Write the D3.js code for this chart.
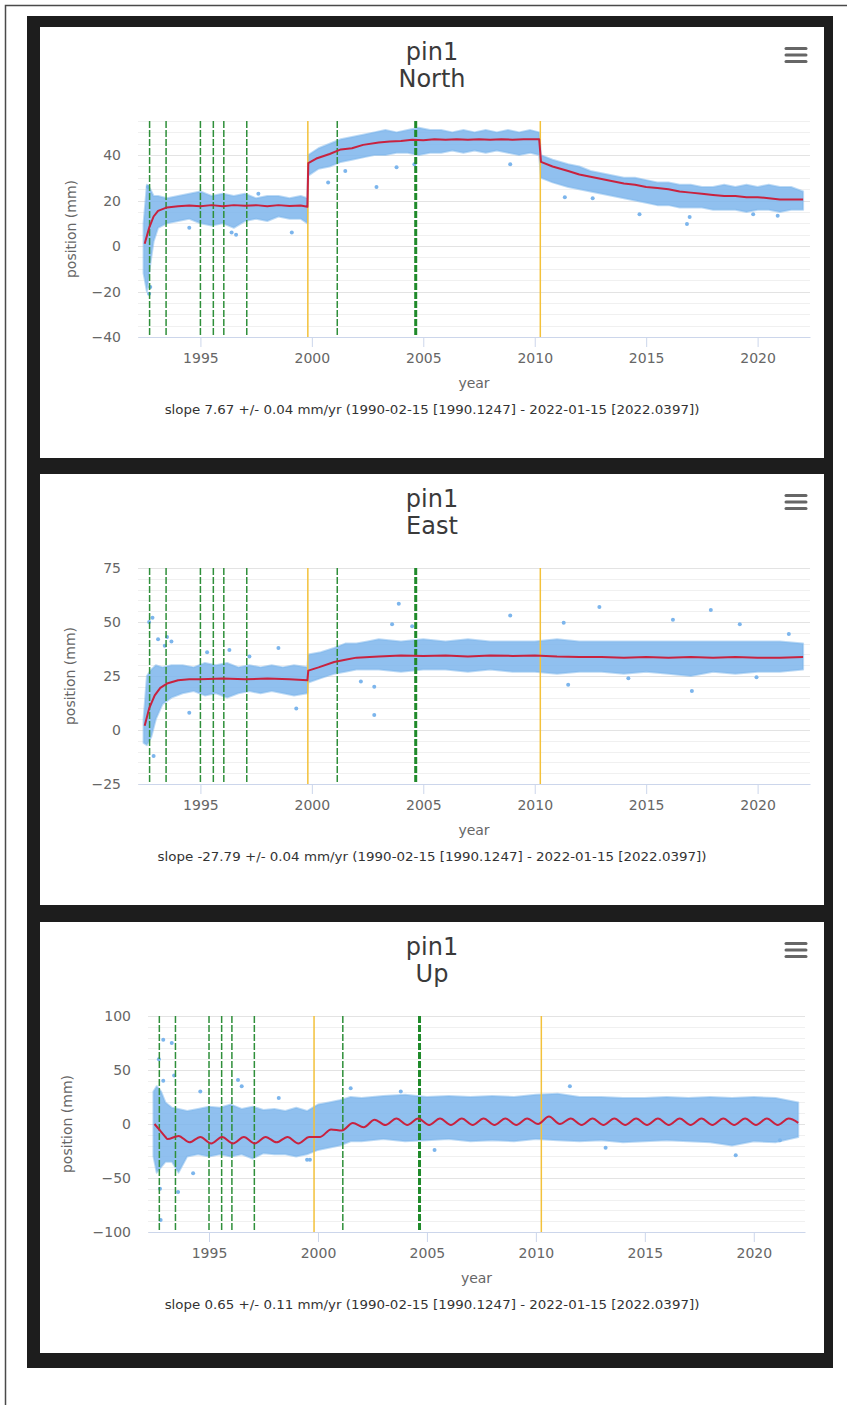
<!DOCTYPE html>
<html lang="en">
<head>
<meta charset="UTF-8" />
<title>pin1 North / East / Up</title>
<style>
  body { margin: 0; background: #fff; }
  svg { display: block; }
</style>
</head>
<body>
<div class="tsChart"></div>
<script src="https://d3js.org/d3.v7.min.js"></script>
<script>
// ---- data ----
const siteName = "pin1";
const xDomain = [1992.2, 2022.35];
const xTicks = [1995, 2000, 2005, 2010, 2015, 2020];
const greenEvents = [1992.72, 1993.46, 1995.0, 1995.58, 1996.05, 1997.08, 2001.14];
const greenEventsBold = [2004.66];
const yellowEvents = [1999.82, 2010.25];

const northTicks = [-40, -20, 0, 20, 40];
const eastTicks = [-25, 0, 25, 50, 75];
const upTicks = [-100, -50, 0, 50, 100];

const northSlope = "slope 7.67 +/- 0.04 mm/yr (1990-02-15 [1990.1247] - 2022-01-15 [2022.0397])";
const eastSlope = "slope -27.79 +/- 0.04 mm/yr (1990-02-15 [1990.1247] - 2022-01-15 [2022.0397])";
const upSlope = "slope 0.65 +/- 0.11 mm/yr (1990-02-15 [1990.1247] - 2022-01-15 [2022.0397])";

// scatter cloud envelope: [year, low, high]
const northCloud = [
  [1992.45, -12, 10], [1992.6, -20, 27], [1992.75, -8, 25], [1992.9, 2, 22], [1993.1, 8, 22],
  [1993.5, 10, 21], [1994, 11, 22], [1994.5, 12, 23], [1995, 10, 24], [1995.5, 9, 22],
  [1996, 10, 23], [1996.5, 8, 22], [1997, 11, 23], [1997.5, 12, 21], [1998, 11, 22],
  [1998.5, 13, 22], [1999, 12, 21], [1999.5, 12, 22], [1999.8, 10, 21],
  [1999.84, 31, 40], [2000.3, 34, 43], [2000.8, 35, 45], [2001.3, 37, 47], [2001.8, 38, 48],
  [2002.3, 39, 49], [2002.8, 40, 50], [2003.3, 40, 51], [2003.8, 41, 50], [2004.3, 41, 51],
  [2004.8, 40, 52], [2005.3, 41, 51], [2005.8, 41, 51], [2006.3, 42, 50], [2006.8, 41, 51],
  [2007.3, 42, 50], [2007.8, 41, 51], [2008.3, 42, 50], [2008.8, 41, 51], [2009.3, 40, 50],
  [2009.8, 41, 51], [2010.2, 40, 50],
  [2010.28, 30, 40], [2010.8, 28, 38], [2011.5, 26, 36], [2012, 25, 35], [2012.5, 24, 33],
  [2013, 23, 32], [2013.5, 22, 31], [2014, 21, 30], [2014.5, 20, 30], [2015, 19, 29],
  [2015.5, 18, 28], [2016, 18, 28], [2016.5, 17, 27], [2017, 17, 27], [2017.5, 17, 26],
  [2018, 16, 26], [2018.5, 16, 27], [2019, 16, 26], [2019.5, 15, 27], [2020, 16, 26],
  [2020.5, 16, 27], [2021, 15, 26], [2021.5, 16, 26], [2022.04, 16, 24]
];
const eastCloud = [
  [1992.45, -6, 5], [1992.6, -7, 25], [1992.8, -3, 28], [1993.0, 5, 30], [1993.3, 12, 29],
  [1993.7, 15, 30], [1994.2, 17, 30], [1994.7, 18, 29], [1995.2, 16, 31], [1995.7, 17, 30],
  [1996.2, 15, 31], [1996.7, 17, 29], [1997.2, 18, 30], [1997.7, 17, 29], [1998.2, 18, 30],
  [1998.7, 17, 29], [1999.2, 16, 30], [1999.8, 17, 29],
  [1999.84, 22, 35], [2000.4, 24, 36], [2001, 26, 38], [2001.5, 27, 40], [2002, 28, 40],
  [2002.5, 28, 41], [2003, 28, 42], [2004, 27, 41], [2005, 28, 42], [2006, 28, 41],
  [2007, 27, 42], [2008, 28, 41], [2009, 27, 41], [2010, 27, 41], [2011, 26, 42],
  [2012, 27, 41], [2013, 27, 41], [2014, 26, 41], [2015, 27, 41], [2016, 26, 41],
  [2017, 25, 41], [2018, 27, 41], [2019, 26, 41], [2020, 27, 41], [2021, 27, 41],
  [2022.04, 28, 40]
];
const upCloud = [
  [1992.45, -30, 30], [1992.6, -45, 35], [1992.8, -40, 30], [1993.0, -35, 20], [1993.3, -35, 15],
  [1993.6, -45, 14], [1994.0, -30, 12], [1994.5, -28, 14], [1995.0, -30, 16], [1995.5, -28, 15],
  [1996.0, -30, 18], [1996.5, -28, 14], [1997.0, -32, 16], [1997.5, -27, 13], [1998.0, -28, 14],
  [1998.5, -28, 12], [1999.0, -30, 15], [1999.5, -28, 12], [2000.0, -24, 18], [2000.5, -22, 20],
  [2001.0, -20, 22], [2001.5, -16, 25], [2002.0, -16, 24], [2003, -14, 26], [2004, -16, 27],
  [2005, -15, 25], [2006, -14, 26], [2007, -16, 25], [2008, -15, 26], [2009, -16, 25],
  [2010, -14, 27], [2011, -15, 28], [2012, -16, 25], [2013, -15, 25], [2014, -17, 24],
  [2015, -16, 24], [2016, -15, 25], [2017, -16, 24], [2018, -17, 25], [2019, -20, 24],
  [2020, -16, 25], [2021, -17, 24], [2022.04, -12, 20]
];

// isolated points outside the cloud: [year, mm]
const northOutliers = [
  [1992.7, -21], [1992.75, -18], [1992.65, 26], [1994.5, 8], [1996.4, 6], [1996.6, 5],
  [1999.1, 6], [1997.6, 23], [2000.73, 28], [2001.5, 33], [2002.9, 26], [2003.8, 34.7],
  [2004.6, 36], [2008.9, 36], [2011.35, 21.5], [2014.7, 14], [2016.83, 9.7], [2016.95, 12.8],
  [2020.9, 13.3], [2019.8, 14], [2012.6, 21]
];
const eastOutliers = [
  [1992.7, 50], [1992.85, 52], [1993.1, 42], [1993.5, 43], [1993.4, 39], [1993.7, 41],
  [1992.9, -12], [1995.3, 36], [1996.3, 37], [1997.2, 34], [1998.5, 38], [1999.3, 10],
  [1994.5, 8], [2002.8, 7], [2002.8, 20], [2002.2, 22.4], [2003.9, 58.4], [2003.6, 49],
  [2004.5, 48], [2008.9, 53], [2012.9, 57], [2017.9, 55.5], [2017.05, 18], [2011.3, 49.7],
  [2016.2, 51], [2019.2, 49], [2021.4, 44.4], [2011.5, 21], [2014.2, 24], [2019.95, 24.4]
];
const upOutliers = [
  [1992.9, 78], [1993.29, 75], [1992.78, -89], [1993.58, -63], [1994.27, -45.6], [1992.7, 60],
  [1992.75, -60], [1993.4, 45], [1992.9, 40], [1994.6, 30], [1996.33, 40.7], [1996.5, 35],
  [1998.2, 24], [1999.63, -33], [1999.5, -33], [2001.5, 33], [2003.8, 30], [2005.35, -24],
  [2011.56, 35], [2013.2, -22], [2019.17, -29], [2021.2, -15]
];

// fitted model (red line): [year, mm]
const northFit = [
  [1992.5, 1], [1992.7, 8], [1992.9, 13], [1993.1, 15.5], [1993.5, 17], [1994, 17.5],
  [1994.5, 17.8], [1995, 17.5], [1995.5, 18], [1996, 17.5], [1996.5, 18], [1997, 17.7],
  [1997.5, 18], [1998, 17.5], [1998.5, 18], [1999, 17.6], [1999.5, 17.8], [1999.8, 17.3],
  [1999.84, 36.5], [2000.2, 38.5], [2000.8, 40.5], [2001.3, 42.5], [2001.8, 43], [2002.3, 44.5],
  [2003, 45.5], [2003.5, 46], [2004, 46.2], [2004.5, 46.8], [2005, 46.5], [2005.5, 47],
  [2006, 46.7], [2006.5, 47], [2007, 46.8], [2007.5, 47], [2008, 46.8], [2008.5, 47],
  [2009, 46.8], [2009.5, 47], [2010.2, 47], [2010.28, 37], [2010.8, 35], [2011.5, 33],
  [2012, 31.5], [2012.5, 30.5], [2013, 29.5], [2013.5, 28.5], [2014, 27.5], [2014.5, 27],
  [2015, 26], [2015.5, 25.5], [2016, 25], [2016.5, 24], [2017, 23.5], [2017.5, 23],
  [2018, 22.5], [2018.5, 22], [2019, 22], [2019.5, 21.5], [2020, 21.5], [2020.5, 21],
  [2021, 20.5], [2021.5, 20.5], [2022.04, 20.5]
];
const eastFit = [
  [1992.5, 2], [1992.7, 10], [1992.95, 16], [1993.2, 19.5], [1993.5, 21.5], [1994, 23],
  [1994.5, 23.5], [1995, 23.5], [1996, 23.8], [1997, 23.5], [1998, 23.8], [1999, 23.5],
  [1999.8, 23], [1999.84, 27.5], [2000.3, 29], [2001, 31.5], [2001.5, 32.5], [2002, 33.5],
  [2003, 34], [2004, 34.5], [2005, 34.3], [2006, 34.5], [2007, 34], [2008, 34.5],
  [2009, 34.3], [2010, 34.5], [2011, 34], [2012, 33.8], [2013, 33.8], [2014, 33.5],
  [2015, 33.8], [2016, 33.5], [2017, 33.8], [2018, 33.5], [2019, 33.8], [2020, 33.5],
  [2021, 33.5], [2022.04, 33.8]
];
const upFit = [
  [1992.5, 0], [1992.75, -6], [1993.0, -12], [1993.1, -14], [1993.6, -11], [1994.1, -17],
  [1994.6, -12], [1995.1, -18], [1995.6, -12], [1996.1, -18], [1996.6, -12], [1997.1, -18],
  [1997.6, -12], [1998.1, -17], [1998.6, -12], [1999.1, -18], [1999.6, -12], [2000.1, -12],
  [2000.6, -5], [2001.1, -6], [2001.6, 1], [2002.1, -3], [2002.6, 4], [2003.1, -1],
  [2003.6, 5], [2004.1, -1], [2004.6, 5], [2005.1, -1], [2005.6, 5], [2006.1, -1],
  [2006.6, 5], [2007.1, -1], [2007.6, 5], [2008.1, -1], [2008.6, 5], [2009.1, -1],
  [2009.6, 5], [2010.1, 0], [2010.6, 7], [2011.1, 0], [2011.6, 5], [2012.1, -1],
  [2012.6, 5], [2013.1, -1], [2013.6, 5], [2014.1, -1], [2014.6, 5], [2015.1, -1],
  [2015.6, 5], [2016.1, -1], [2016.6, 5], [2017.1, -1], [2017.6, 5], [2018.1, -1],
  [2018.6, 5], [2019.1, -1], [2019.6, 5], [2020.1, -1], [2020.6, 5], [2021.1, -1],
  [2021.6, 5], [2022.04, 1]
];

// panel table built from the arrays above
const panels = [
  { name: "North", top: 27, left: 138, right: 810, yDomain: [-40, 55], minorStep: 5, ticks: northTicks,
    cloud: northCloud, outliers: northOutliers, fit: northFit, slope: northSlope, curve: d3.curveLinear, titleX: 71 },
  { name: "East", top: 474, left: 138, right: 810, yDomain: [-25, 75], minorStep: 5, ticks: eastTicks,
    cloud: eastCloud, outliers: eastOutliers, fit: eastFit, slope: eastSlope, curve: d3.curveLinear, titleX: 70 },
  { name: "Up", top: 922, left: 148, right: 805, yDomain: [-100, 100], minorStep: 10, ticks: upTicks,
    cloud: upCloud, outliers: upOutliers, fit: upFit, slope: upSlope, curve: d3.curveMonotoneX, titleX: 67 }
];

const W = 847, H = 1405;
const font = "'DejaVu Sans', sans-serif";

const svg = d3.select(".tsChart").append("svg")
  .attr("width", W).attr("height", H);

// thin page border (top and left only) and the dark frame
svg.append("path").attr("d", "M5.5,1405 V5.5 H847")
  .attr("fill", "none").attr("stroke", "#4a4a4a").attr("stroke-width", 1.5);
svg.append("rect").attr("x", 27).attr("y", 16).attr("width", 806).attr("height", 1352)
  .attr("fill", "#1d1d1d");

const drawPanel = (p, i) => {
  const g = svg.append("g");
  g.append("rect").attr("x", 40).attr("y", p.top).attr("width", 784).attr("height", 431)
    .attr("fill", "#fff");

  const plotTop = p.top + 94, plotBottom = p.top + 310;
  const x = d3.scaleLinear().domain(xDomain).range([p.left, p.right]);
  const y = d3.scaleLinear().domain(p.yDomain).range([plotBottom, plotTop]);

  // title + menu icon
  g.append("text").attr("x", 432).attr("y", p.top + 33).attr("text-anchor", "middle")
    .attr("font-family", font).attr("font-size", 24).attr("fill", "#3a3a3a").text(siteName);
  g.append("text").attr("x", 432).attr("y", p.top + 60).attr("text-anchor", "middle")
    .attr("font-family", font).attr("font-size", 24).attr("fill", "#3a3a3a").text(p.name);
  g.selectAll(null).data([21.5, 28, 34.5]).join("line")
    .attr("x1", 786).attr("x2", 806)
    .attr("y1", d => p.top + d).attr("y2", d => p.top + d)
    .attr("stroke", "#666").attr("stroke-width", 3).attr("stroke-linecap", "round");

  // grid lines
  const minor = d3.range(p.yDomain[0], p.yDomain[1] + 0.001, p.minorStep);
  g.selectAll(null).data(minor).join("line")
    .attr("x1", p.left).attr("x2", p.right)
    .attr("y1", d => Math.round(y(d)) + 0.5).attr("y2", d => Math.round(y(d)) + 0.5)
    .attr("stroke", "#f0f0f0");
  g.selectAll(null).data(p.ticks).join("line")
    .attr("x1", p.left).attr("x2", p.right)
    .attr("y1", d => Math.round(y(d)) + 0.5).attr("y2", d => Math.round(y(d)) + 0.5)
    .attr("stroke", "#e3e3e3");

  // clip
  const clipId = "clip" + i;
  g.append("clipPath").attr("id", clipId).append("rect")
    .attr("x", p.left).attr("y", plotTop).attr("width", p.right - p.left).attr("height", plotBottom - plotTop);
  const plot = g.append("g").attr("clip-path", `url(#${clipId})`);

  // scatter cloud
  plot.append("path").datum(p.cloud)
    .attr("d", d3.area().x(d => x(d[0])).y0(d => y(d[1])).y1(d => y(d[2])))
    .attr("fill", "#7cb5ec").attr("fill-opacity", 0.85)
    .attr("stroke", "#7cb5ec").attr("stroke-width", 2).attr("stroke-opacity", 0.5)
    .attr("stroke-linejoin", "round");
  plot.selectAll(null).data(p.outliers).join("circle")
    .attr("cx", d => x(d[0])).attr("cy", d => y(d[1])).attr("r", 2)
    .attr("fill", "#7cb5ec");

  // event lines
  plot.selectAll(null).data(yellowEvents).join("line")
    .attr("x1", d => x(d)).attr("x2", d => x(d)).attr("y1", plotTop).attr("y2", plotBottom)
    .attr("stroke", "#f3c13a").attr("stroke-width", 1.5);
  plot.selectAll(null).data(greenEvents).join("line")
    .attr("x1", d => x(d)).attr("x2", d => x(d)).attr("y1", plotTop).attr("y2", plotBottom)
    .attr("stroke", "#2f8f3a").attr("stroke-width", 1.5).attr("stroke-dasharray", "7,2");
  plot.selectAll(null).data(greenEventsBold).join("line")
    .attr("x1", d => x(d)).attr("x2", d => x(d)).attr("y1", plotTop).attr("y2", plotBottom)
    .attr("stroke", "#1f8a2a").attr("stroke-width", 3).attr("stroke-dasharray", "7,2");

  // fitted line
  plot.append("path").datum(p.fit)
    .attr("d", d3.line().x(d => x(d[0])).y(d => y(d[1])).curve(p.curve))
    .attr("fill", "none").attr("stroke", "#c8223f").attr("stroke-width", 2)
    .attr("stroke-linejoin", "round");

  // axes
  const yAxis = g.append("g").attr("transform", `translate(${p.left},0)`)
    .call(d3.axisLeft(y).tickValues(p.ticks).tickSize(0).tickPadding(17));
  yAxis.select(".domain").remove();
  yAxis.selectAll("text").attr("font-family", font).attr("font-size", 14).attr("fill", "#666");

  const xAxis = g.append("g").attr("transform", `translate(0,${plotBottom})`)
    .call(d3.axisBottom(x).tickValues(xTicks).tickFormat(d3.format("d")).tickSize(10).tickSizeOuter(0).tickPadding(6));
  xAxis.select(".domain").attr("stroke", "#ccd6eb");
  xAxis.selectAll(".tick line").attr("stroke", "#ccd6eb");
  xAxis.selectAll("text").attr("font-family", font).attr("font-size", 14).attr("fill", "#666");

  // axis titles + slope note
  g.append("text").attr("transform", `translate(${p.titleX},${(plotTop + plotBottom) / 2}) rotate(-90)`)
    .attr("text-anchor", "middle").attr("dy", "0.35em")
    .attr("font-family", font).attr("font-size", 14).attr("fill", "#666").text("position (mm)");
  g.append("text").attr("x", (p.left + p.right) / 2).attr("y", plotBottom + 51)
    .attr("text-anchor", "middle").attr("font-family", font).attr("font-size", 14)
    .attr("fill", "#666").text("year");
  g.append("text").attr("x", 432).attr("y", plotBottom + 77)
    .attr("text-anchor", "middle").attr("font-family", font).attr("font-size", 13)
    .attr("textLength", p.slope.length * 7.13).attr("lengthAdjust", "spacingAndGlyphs")
    .attr("fill", "#333").text(p.slope);
};

panels.forEach(drawPanel);
</script>
</body>
</html>
